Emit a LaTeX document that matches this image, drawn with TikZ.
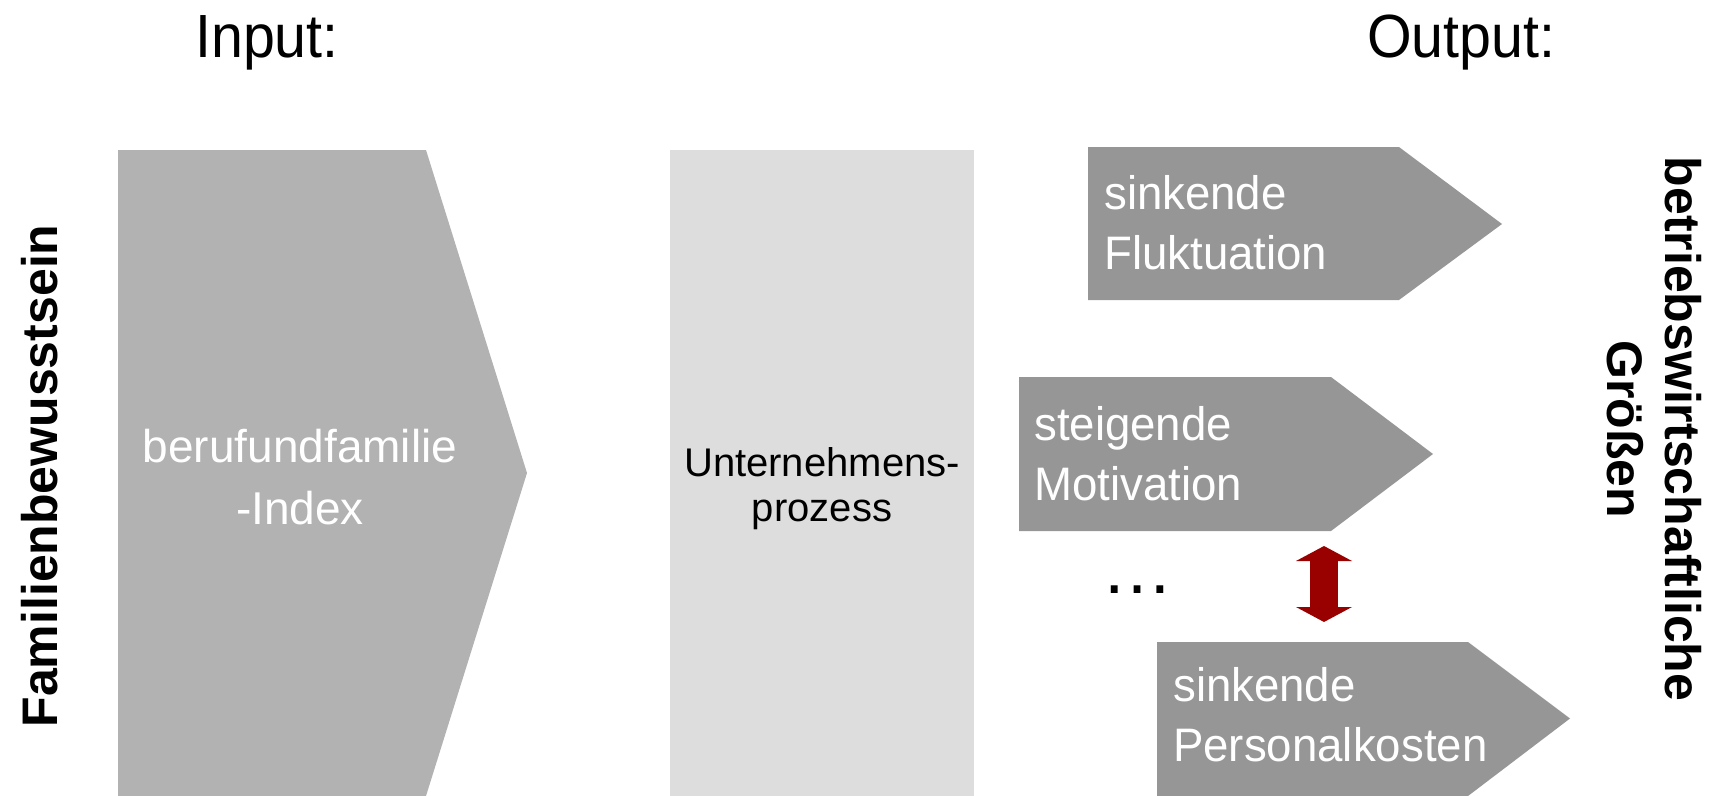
\documentclass[tikz,border=0pt]{standalone}
\usepackage{fontspec}
\setmainfont{Liberation Sans}
\newfontfamily\narrowfont[FakeStretch=0.94]{Liberation Sans}
\newfontfamily\outfont[FakeStretch=0.97]{Liberation Sans}
\usetikzlibrary{arrows.meta}
\definecolor{inputgray}{HTML}{B2B2B2}
\definecolor{procgray}{HTML}{DDDDDD}
\definecolor{outgray}{HTML}{969696}
\definecolor{darkred}{HTML}{990000}
\begin{document}
\begin{tikzpicture}[x=1pt,y=-1pt,
  outtext/.style={anchor=base west, inner sep=0pt, text=white, align=left, font=\outfont\fontsize{47}{60}\selectfont},
  headtext/.style={anchor=base west, inner sep=0pt, font=\narrowfont\fontsize{61}{61}\selectfont},
  sidetext/.style={anchor=base, inner sep=0pt, align=center, font=\bfseries\fontsize{50}{58}\selectfont}]
\useasboundingbox (0,0) rectangle (1713,795);

% shapes
\fill[inputgray] (118,150) -- (426,150) -- (527,473) -- (426,796) -- (118,796) -- cycle;
\fill[procgray] (670,150) rectangle (974,796);
\fill[outgray] (1088,147) -- (1399,147) -- (1502,224) -- (1399,300) -- (1088,300) -- cycle;
\fill[outgray] (1019,377) -- (1331,377) -- (1433,454) -- (1331,531) -- (1019,531) -- cycle;
\fill[outgray] (1157,642) -- (1468,642) -- (1570,718.5) -- (1468,796) -- (1157,796) -- cycle;

% texts (base anchor = baseline of the last line)
\node[headtext] (input) at (195,57) {Input:};
\node[headtext] (output) at (1367,57) {Output:};
\node[sidetext, rotate=90] (fam) at (57,476) {Familienbewusstsein};
\node[sidetext, rotate=-90] (bwg) at (1607,429) {betriebswirtschaftliche\\Größen};
\node[anchor=base, inner sep=0pt, align=center, text=white, font=\fontsize{46}{62}\selectfont] (idx) at (300,524) {berufundfamilie\\-Index};
\node[anchor=base, inner sep=0pt, align=center, text=black, font=\fontsize{40}{45}\selectfont] (proc) at (822,521) {Unternehmens-\\prozess};
\node[outtext] (fluk) at (1104,269) {sinkende\\Fluktuation};
\node[outtext] (motiv) at (1034,500) {steigende\\Motivation};
\node[outtext] (pers) at (1173,761) {sinkende\\Personalkosten};
\node[anchor=base, inner sep=0pt, font=\fontsize{72}{72}\selectfont] (dots) at (1137,593) {…};

% red double arrow
\coordinate (rtop) at (1324,546);
\coordinate (rbot) at (1324,622);
\draw[darkred, line width=28pt,
  {Triangle[width=56pt,length=15pt,line width=0pt]}-{Triangle[width=56pt,length=15pt,line width=0pt]}]
  (rtop) -- (rbot);
\end{tikzpicture}
\end{document}
